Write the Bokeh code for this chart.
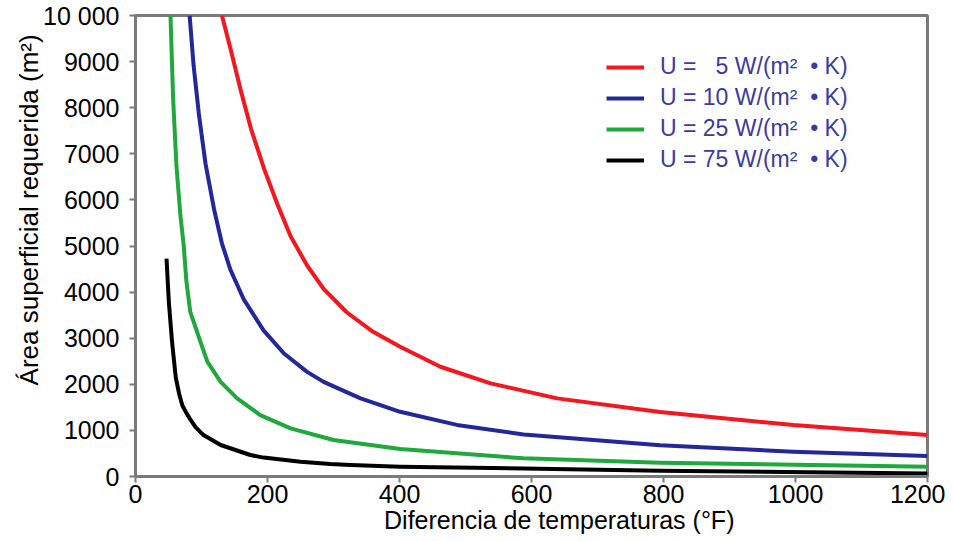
from bokeh.plotting import figure
from bokeh.models import Range1d, FixedTicker, Legend, LegendItem
from bokeh.embed import file_html
from bokeh.resources import INLINE

# Data (ΔT in °F, area in m²)
red_x = [131, 144, 160, 175, 195, 215, 235, 260, 285, 320, 360, 401, 462, 538, 639, 795, 997, 1200]
red_y = [10000, 9271, 8344, 7543, 6667, 5907, 5213, 4577, 4070, 3563, 3139, 2813, 2381, 2020, 1695, 1400, 1116, 899]

blue_x = [82, 88, 96, 106, 119, 131, 144, 164, 194, 225, 260, 285, 341, 401, 487, 588, 795, 997, 1200]
blue_y = [10000, 8920, 7865, 6792, 5798, 5053, 4479, 3841, 3170, 2667, 2269, 2053, 1695, 1404, 1119, 910, 679, 538, 444]

green_x = [53, 57, 62, 68, 73, 77, 83, 97, 109, 129, 154, 189, 235, 300, 401, 588, 795, 1200]
green_y = [10000, 8195, 6750, 5666, 5016, 4250, 3571, 2980, 2488, 2054, 1694, 1333, 1044, 791, 595, 394, 300, 213]

black_x = [47, 50.5, 55.5, 61, 66, 71, 77, 83, 91, 103, 129, 174, 194, 250, 295, 326, 401, 795, 1200]
black_y = [4728, 3788, 2900, 2150, 1800, 1540, 1380, 1240, 1070, 899, 683, 466, 410, 321, 271, 249, 213, 127, 65]

NB = "\u00a0"
tail = "W/(m\u00b2" + NB * 2 + "\u2022" + NB + "K)"
labels = ["U = \u20075 " + tail, "U = 10 " + tail, "U = 25 " + tail, "U = 75 " + tail]
colors = ["#f5161e", "#24279a", "#1fa83c", "#000000"]

x_ticks = [0, 200, 400, 600, 800, 1000, 1200]
y_ticks = [0, 1000, 2000, 3000, 4000, 5000, 6000, 7000, 8000, 9000, 10000]

FONT = "Liberation Sans"

p = figure(width=945, height=540, output_backend="svg", toolbar_location=None,
           x_range=Range1d(0, 1200), y_range=Range1d(0, 10000))
p.min_border_left = 135
p.min_border_right = 18
p.min_border_top = 15
p.min_border_bottom = 64

p.xgrid.visible = False
p.ygrid.visible = False
p.outline_line_color = "#7a7a7a"
p.outline_line_width = 3

series = [(red_x, red_y), (blue_x, blue_y), (green_x, green_y), (black_x, black_y)]
items = []
for (xs, ys), c, lab in zip(series, colors, labels):
    r = p.line(xs, ys, line_color=c, line_width=4, line_join="round")
    items.append(LegendItem(label=lab, renderers=[r]))

for ax in (p.xaxis[0], p.yaxis[0]):
    ax.axis_line_color = "#7a7a7a"
    ax.axis_line_width = 3
    ax.major_tick_line_color = "#7a7a7a"
    ax.major_tick_line_width = 2
    ax.major_tick_out = 6
    ax.major_tick_in = 0
    ax.minor_tick_line_color = None
    ax.major_label_text_font = FONT
    ax.major_label_text_font_size = "25px"
    ax.major_label_text_color = "#000000"
    ax.axis_label_text_font = FONT
    ax.axis_label_text_font_style = "normal"
    ax.axis_label_text_color = "#000000"

p.xaxis.axis_label_text_font_size = "25px"
p.yaxis.axis_label_text_font_size = "26px"
p.xaxis.ticker = FixedTicker(ticks=x_ticks)
p.yaxis.ticker = FixedTicker(ticks=y_ticks)
p.yaxis.major_label_overrides = {10000: "10 000"}
p.xaxis.axis_label = NB * 8 + "Diferencia de temperaturas (\u00b0F)"
p.yaxis.axis_label = NB * 10 + "\u00c1rea superficial requerida (m\u00b2)"
p.xaxis.major_label_standoff = 2
p.xaxis.axis_label_standoff = 0
p.yaxis.major_label_standoff = 10
p.yaxis.axis_label_standoff = -4

legend = Legend(items=items, location=(471, 303))
legend.label_text_font = FONT
legend.label_text_font_size = "23px"
legend.label_text_color = "#3b3b9e"
legend.glyph_width = 38
legend.glyph_height = 20
legend.label_standoff = 16
legend.spacing = 4
legend.padding = 4
legend.border_line_color = None
legend.background_fill_alpha = 0
p.add_layout(legend)

open("out.html", "w").write(file_html(p, INLINE))
